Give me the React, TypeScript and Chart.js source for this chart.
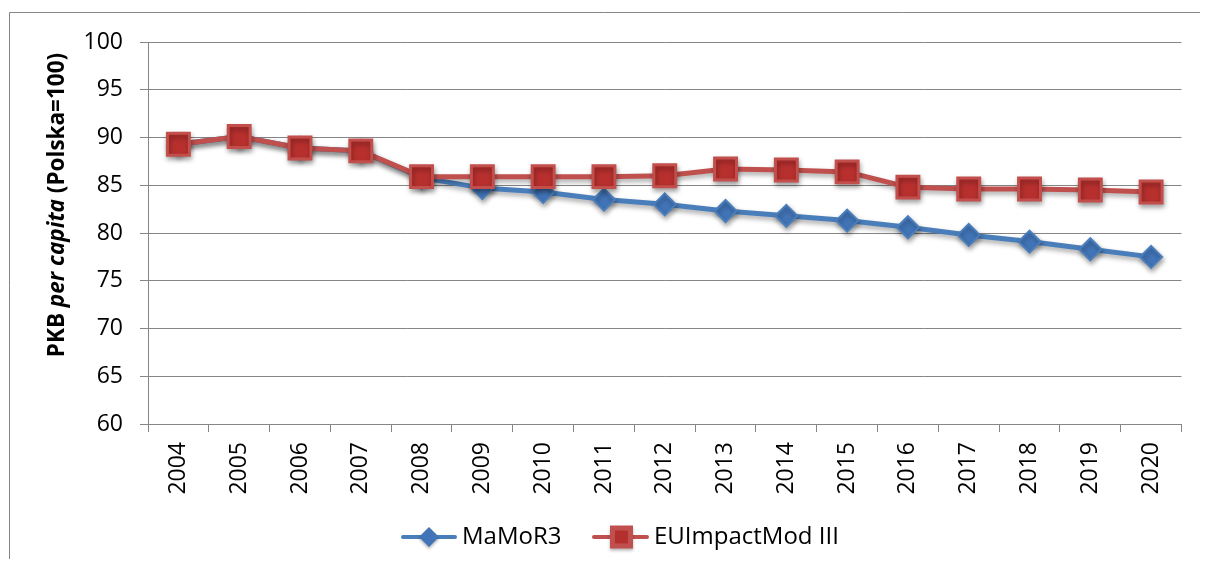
import React, { useEffect, useRef } from "react";
import { Chart, registerables } from "chart.js";

Chart.register(...registerables);

const years = ["2004", "2005", "2006", "2007", "2008", "2009", "2010", "2011", "2012", "2013", "2014", "2015", "2016", "2017", "2018", "2019", "2020"];
const mamorValues = [89.3, 90.1, 88.9, 88.6, 85.8, 84.7, 84.3, 83.5, 83.0, 82.3, 81.8, 81.3, 80.6, 79.8, 79.1, 78.3, 77.5];
const euValues = [89.3, 90.1, 88.9, 88.6, 85.9, 85.9, 85.9, 85.9, 86.0, 86.7, 86.6, 86.4, 84.8, 84.6, 84.6, 84.5, 84.3];
const seriesNames = ["MaMoR3", "EUImpactMod III"];
const yMin = 60;
const yMax = 100;
const yStep = 5;
const titleParts = [
  { text: "PKB ", italic: false },
  { text: "per capita", italic: true },
  { text: " (Polska=100)", italic: false },
];

const FONT = "'Open Sans', 'Noto Sans', sans-serif";
const GRID = "#868686";
const BLUE = "#4a7ebb";
const RED = "#c0504d";

function drawDiamond(ctx: CanvasRenderingContext2D, x: number, y: number, r: number) {
  ctx.beginPath();
  ctx.moveTo(x - r, y);
  ctx.lineTo(x, y - r);
  ctx.lineTo(x + r, y);
  ctx.lineTo(x, y + r);
  ctx.closePath();
}

const decorPlugin = {
  id: "decor",
  beforeDraw(chart: any) {
    const ctx = chart.ctx as CanvasRenderingContext2D;
    ctx.save();
    ctx.fillStyle = "#ffffff";
    ctx.fillRect(0, 0, chart.width, chart.height);
    ctx.strokeStyle = GRID;
    ctx.lineWidth = 1;
    ctx.beginPath();
    ctx.moveTo(1.5, chart.height);
    ctx.lineTo(1.5, 4.5);
    ctx.lineTo(chart.width, 4.5);
    ctx.stroke();
    ctx.restore();
  },
  beforeDatasetDraw(chart: any) {
    const ctx = chart.ctx as CanvasRenderingContext2D;
    ctx.save();
    ctx.shadowColor = "rgba(0,0,0,0.35)";
    ctx.shadowBlur = 5;
    ctx.shadowOffsetX = 1;
    ctx.shadowOffsetY = 3;
  },
  afterDatasetDraw(chart: any) {
    chart.ctx.restore();
  },
  afterDraw(chart: any) {
    const ctx = chart.ctx as CanvasRenderingContext2D;
    // Y axis title with mixed styles
    ctx.save();
    ctx.translate(50, 197);
    ctx.rotate(-Math.PI / 2);
    ctx.textBaseline = "middle";
    ctx.fillStyle = "#000";
    const fonts = titleParts.map((p) => (p.italic ? "italic bold 22.5px " : "bold 22.5px ") + FONT);
    let total = 0;
    const widths = titleParts.map((p, i) => {
      ctx.font = fonts[i];
      const w = ctx.measureText(p.text).width;
      total += w;
      return w;
    });
    let x = -total / 2;
    titleParts.forEach((p, i) => {
      ctx.font = fonts[i];
      ctx.fillText(p.text, x, 0);
      x += widths[i];
    });
    ctx.restore();

    // Legend
    const ly = 529;
    ctx.save();
    ctx.lineCap = "round";
    // blue
    ctx.strokeStyle = BLUE;
    ctx.lineWidth = 4;
    ctx.beginPath();
    ctx.moveTo(395, ly);
    ctx.lineTo(447, ly);
    ctx.stroke();
    ctx.save();
    ctx.shadowColor = "rgba(0,0,0,0.3)";
    ctx.shadowBlur = 3;
    ctx.shadowOffsetY = 2;
    drawDiamond(ctx, 421, ly, 10);
    ctx.fillStyle = "#4275b8";
    ctx.fill();
    ctx.restore();
    // red
    ctx.strokeStyle = RED;
    ctx.beginPath();
    ctx.moveTo(586, ly);
    ctx.lineTo(639, ly);
    ctx.stroke();
    ctx.save();
    ctx.shadowColor = "rgba(0,0,0,0.3)";
    ctx.shadowBlur = 3;
    ctx.shadowOffsetY = 2;
    ctx.fillStyle = RED;
    ctx.fillRect(602, ly - 11.5, 23, 23);
    ctx.restore();
    ctx.fillStyle = "#b3302e";
    ctx.fillRect(607, ly - 6.5, 13, 13);
    // texts
    ctx.fillStyle = "#000";
    ctx.font = "24px " + FONT;
    ctx.textBaseline = "middle";
    ctx.fillText(seriesNames[0], 454, ly);
    ctx.fillText(seriesNames[1], 646, ly);
    ctx.restore();
  },
};

export default function App() {
  const canvasRef = useRef<HTMLCanvasElement | null>(null);

  useEffect(() => {
    if (!canvasRef.current) return;
    const chart = new Chart(canvasRef.current, {
      type: "line",
      data: {
        labels: years,
        datasets: [
          {
            label: seriesNames[0],
            data: mamorValues,
            borderColor: BLUE,
            borderWidth: 5,
            pointStyle: "rectRot",
            pointRadius: 11,
            pointBackgroundColor: "#4275b8",
            pointBorderColor: BLUE,
            pointBorderWidth: 2,
            tension: 0,
            order: 1,
          },
          {
            label: seriesNames[1],
            data: euValues,
            borderColor: RED,
            borderWidth: 5,
            pointStyle: "rect",
            pointRadius: 15.5,
            pointBackgroundColor: "#b8302e",
            pointBorderColor: "#c24f4c",
            pointBorderWidth: 3,
            tension: 0,
            order: 0,
          },
        ],
      },
      options: {
        responsive: false,
        animation: false,
        events: [],
        layout: { padding: { left: 0, right: 9, top: 34, bottom: 0 } },
        plugins: {
          legend: { display: false },
          tooltip: { enabled: false },
          title: { display: false },
        },
        scales: {
          x: {
            offset: true,
            grid: {
              offset: true,
              drawOnChartArea: false,
              drawTicks: true,
              tickLength: 8,
              color: GRID,
            },
            border: { display: true, color: GRID },
            ticks: {
              autoSkip: false,
              maxRotation: 90,
              minRotation: 90,
              padding: 10,
              color: "#000",
              font: { family: FONT, size: 23 },
            },
            afterFit: (scale: any) => {
              scale.height = 135;
            },
          },
          y: {
            min: yMin,
            max: yMax,
            ticks: {
              stepSize: yStep,
              padding: 17,
              color: "#000",
              font: { family: FONT, size: 23 },
            },
            grid: { color: GRID, tickLength: 8, drawTicks: true },
            border: { display: true, color: GRID },
            afterFit: (scale: any) => {
              scale.width = 140;
            },
          },
        },
      },
      plugins: [decorPlugin],
    });
    return () => chart.destroy();
  }, []);

  return (
    <div style={{ width: 1192, height: 551 }}>
      <canvas ref={canvasRef} width={1192} height={551} style={{ display: "block" }} />
    </div>
  );
}
